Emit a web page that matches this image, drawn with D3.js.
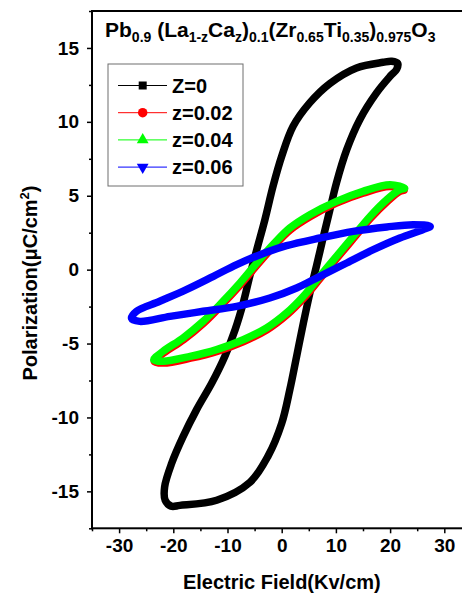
<!DOCTYPE html>
<html>
<head>
<meta charset="utf-8">
<script src="https://cdn.jsdelivr.net/npm/d3@7"></script>
<style>
  body { margin: 0; background: #fff; }
  text { font-family: "Liberation Sans", Arial, sans-serif; font-weight: bold; fill: #000; }
</style>
</head>
<body>
<div id="chart"></div>
<script>
// hysteresis loops: descending branch first, then ascending
var eZ0 = [21.4, 20.3, 18.7, 13.8, 8.9, 5.2, 2.1, 0.0, -1.6, -3.1, -4.6, -5.9, -7.1, -8.6, -10.5, -12.9, -15.7, -18.2, -20.3, -21.6, -21.5,
           -20.4, -18.8, -12.0, -5.9, -2.5, 0.0, 1.5, 2.75, 4.0, 5.2, 6.4, 7.7, 8.9, 10.1, 12.0, 14.4, 17.5, 20.0, 21.2];
var pZ0 = [13.95, 14.1, 14.03, 13.65, 12.6, 11.3, 9.7, 7.67, 5.64, 3.38, 1.35, -0.45, -2.25, -4.06, -5.87, -7.67, -9.47, -11.3, -13.1, -14.7, -15.6,
           -16.0, -15.95, -15.6, -14.4, -12.6, -10.4, -8.12, -5.87, -3.61, -1.58, 0.22, 2.25, 4.06, 5.87, 8.12, 10.15, 11.96, 13.08, 13.55];

var eZ002 = [22.6, 19.9, 15.0, 10.1, 5.3, 1.6, -1.5, -4.5, -7.6, -11.0, -14.4, -18.1, -21.8, -23.5,
             -21.8, -16.8, -11.9, -7.0, -2.7, 1.0, 4.1, 7.15, 10.2, 13.3, 16.4, 19.5, 21.8];
var pZ002 = [5.38, 5.62, 5.17, 4.5, 3.6, 2.7, 1.57, 0.33, -1.02, -2.37, -3.62, -4.74, -5.65, -6.22,
             -6.32, -5.99, -5.53, -4.86, -4.07, -3.05, -1.92, -0.57, 0.78, 2.13, 3.48, 4.62, 5.3];

var eZ004 = [22.7, 20.0, 15.0, 10.1, 5.2, 1.5, -1.6, -4.6, -7.7, -11.1, -14.5, -18.2, -21.9, -23.6,
             -21.9, -16.9, -12.0, -7.1, -2.8, 0.9, 4.0, 7.05, 10.1, 13.2, 16.3, 19.4, 21.8];
var pZ004 = [5.5, 5.75, 5.3, 4.62, 3.72, 2.82, 1.69, 0.45, -0.90, -2.25, -3.5, -4.62, -5.53, -6.1,
             -6.2, -5.87, -5.41, -4.74, -3.95, -2.93, -1.8, -0.45, 0.90, 2.25, 3.6, 4.74, 5.41];

var eZ006 = [27.4, 24.3, 19.4, 13.2, 7.05, 0.9, -4.0, -8.3, -12.6, -17.6, -22.5, -26.8, -27.7,
             -26.2, -20.6, -14.5, -8.3, -2.2, 2.75, 7.05, 12.0, 16.9, 21.8, 26.1];
var pZ006 = [2.93, 3.04, 2.89, 2.59, 2.14, 1.62, 1.01, 0.34, -0.45, -1.35, -2.14, -2.82, -3.3,
             -3.5, -3.16, -2.82, -2.48, -1.92, -1.24, -0.45, 0.45, 1.35, 2.14, 2.71];

var seriesNames = ["Z=0", "z=0.02", "z=0.04", "z=0.06"];
var seriesColors = ["#000000", "#ff0000", "#00ff00", "#0000ff"];
var seriesE = [eZ0, eZ002, eZ004, eZ006];
var seriesP = [pZ0, pZ002, pZ004, pZ006];

var xTicks = [-30, -20, -10, 0, 10, 20, 30];
var xTickLabels = ["-30", "-20", "-10", "0", "10", "20", "30"];
var xMinor = [-35, -25, -15, -5, 5, 15, 25];
var yTicks = [-15, -10, -5, 0, 5, 10, 15];
var yTickLabels = ["-15", "-10", "-5", "0", "5", "10", "15"];
var yMinor = [-17.5, -12.5, -7.5, -2.5, 2.5, 7.5, 12.5, 17.5];

var width = 462, height = 599;
var svg = d3.select("#chart").append("svg")
    .attr("width", width)
    .attr("height", height);

var x = d3.scaleLinear().domain([-35, 35]).range([92, 471.4]);
var y = d3.scaleLinear().domain([-17.5, 17.5]).range([528.3, 11]);

// loops
var line = d3.line()
    .x(function(d) { return x(d[0]); })
    .y(function(d) { return y(d[1]); })
    .curve(d3.curveCatmullRomClosed.alpha(0.5));

svg.append("clipPath").attr("id", "plotclip")
    .append("rect")
    .attr("x", x(-35)).attr("y", y(17.5))
    .attr("width", x(35) - x(-35)).attr("height", y(-17.5) - y(17.5));

var loops = svg.append("g").attr("clip-path", "url(#plotclip)");
seriesNames.forEach(function(name, i) {
    var pts = seriesE[i].map(function(e, j) { return [e, seriesP[i][j]]; });
    loops.append("path")
        .datum(pts)
        .attr("d", line)
        .attr("fill", "none")
        .attr("stroke", seriesColors[i])
        .attr("stroke-width", 7.5)
        .attr("stroke-linejoin", "round");
});

// axes
var xAxis = svg.append("g")
    .attr("transform", "translate(0," + y(-17.5) + ")")
    .call(d3.axisBottom(x).tickValues(xTicks).tickSize(5).tickPadding(5).tickSizeOuter(0)
        .tickFormat(function(d, i) { return xTickLabels[i]; }));
var xAxisMinor = svg.append("g")
    .attr("transform", "translate(0," + y(-17.5) + ")")
    .call(d3.axisBottom(x).tickValues(xMinor).tickSize(3).tickSizeOuter(0).tickFormat(""));
var yAxis = svg.append("g")
    .attr("transform", "translate(" + x(-35) + ",0)")
    .call(d3.axisLeft(y).tickValues(yTicks).tickSize(5).tickPadding(8).tickSizeOuter(0)
        .tickFormat(function(d, i) { return yTickLabels[i]; }));
var yAxisMinor = svg.append("g")
    .attr("transform", "translate(" + x(-35) + ",0)")
    .call(d3.axisLeft(y).tickValues(yMinor).tickSize(3).tickSizeOuter(0).tickFormat(""));

[xAxis, xAxisMinor, yAxis, yAxisMinor].forEach(function(g) {
    g.select(".domain").remove();
    g.selectAll("line").attr("stroke", "#000").attr("stroke-width", 1.5);
    g.selectAll("text")
        .style("font-family", "'Liberation Sans', Arial, sans-serif")
        .style("font-weight", "bold")
        .style("font-size", "19px");
});

// frame
svg.append("rect")
    .attr("x", x(-35)).attr("y", y(17.5))
    .attr("width", x(35) - x(-35)).attr("height", y(-17.5) - y(17.5))
    .attr("fill", "none").attr("stroke", "#000").attr("stroke-width", 2);

// axis titles
svg.append("text")
    .attr("x", 281.8).attr("y", 589)
    .attr("text-anchor", "middle")
    .style("font-size", "20px")
    .text("Electric Field(Kv/cm)");

var yl = svg.append("text")
    .attr("transform", "translate(37,283) rotate(-90)")
    .attr("text-anchor", "middle")
    .style("font-size", "20px");
yl.append("tspan").text("Polarization(μC/cm");
yl.append("tspan").attr("dy", -8).style("font-size", "13px").text("2");
yl.append("tspan").attr("dy", 8).text(")");

// title with subscripts
var titleParts = [["Pb", 0], ["0.9", 1], [" (La", 0], ["1-z", 1], ["Ca", 0], ["z", 1], [")", 0], ["0.1", 1],
                  ["(Zr", 0], ["0.65", 1], ["Ti", 0], ["0.35", 1], [")", 0], ["0.975", 1], ["O", 0], ["3", 1]];
var title = svg.append("text")
    .attr("x", 105).attr("y", 36.5)
    .style("font-size", "21px")
    .attr("xml:space", "preserve");
var prevSub = 0;
titleParts.forEach(function(p) {
    var t = title.append("tspan").text(p[0]);
    if (p[1]) t.style("font-size", "14px");
    if (p[1] && !prevSub) t.attr("dy", 5);
    if (!p[1] && prevSub) t.attr("dy", -5);
    prevSub = p[1];
});

// legend
var legend = svg.append("g");
legend.append("rect")
    .attr("x", 108).attr("y", 64).attr("width", 135).attr("height", 122)
    .attr("fill", "#fff").attr("stroke", "#6e6e6e").attr("stroke-width", 1);
var symbols = [d3.symbolSquare, d3.symbolCircle, d3.symbolTriangle, d3.symbolTriangle];
var symbolSizes = [64, 70, 60, 60];
seriesNames.forEach(function(name, i) {
    var yy = 85.5 + i * 27.2;
    legend.append("line")
        .attr("x1", 118).attr("x2", 167).attr("y1", yy).attr("y2", yy)
        .attr("stroke", seriesColors[i]).attr("stroke-width", 1);
    legend.append("path")
        .attr("d", d3.symbol().type(symbols[i]).size(symbolSizes[i])())
        .attr("transform", "translate(142.7," + yy + ")" + (i === 3 ? " rotate(180)" : ""))
        .attr("fill", seriesColors[i]);
    legend.append("text")
        .attr("x", 172).attr("y", yy + 7)
        .style("font-size", "20px")
        .text(name);
});
</script>
</body>
</html>
